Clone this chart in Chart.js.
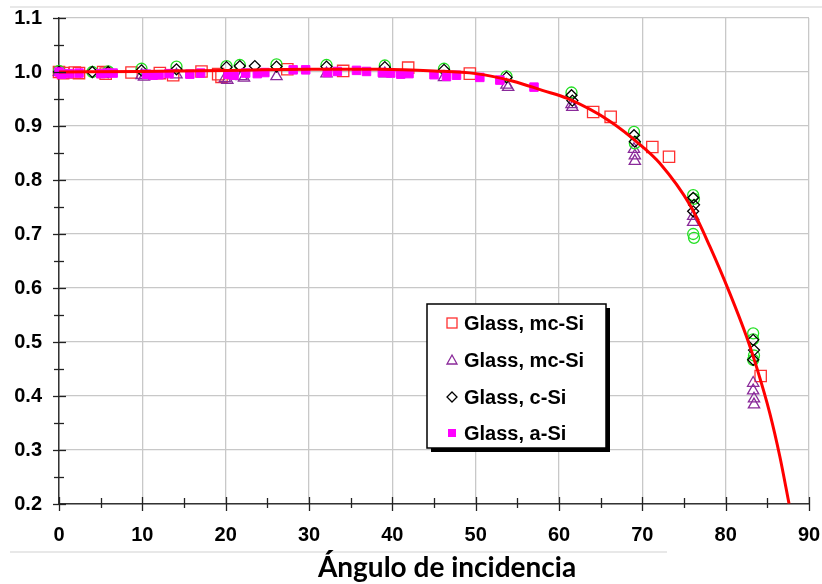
<!DOCTYPE html>
<html>
<head>
<meta charset="utf-8">
<script src="https://cdn.jsdelivr.net/npm/chart.js@4.4.0/dist/chart.umd.min.js"></script>
<style>
  html, body { margin: 0; padding: 0; background: #fff; }
  #wrap { width: 822px; height: 584px; }
</style>
</head>
<body>
<div id="wrap"><canvas id="grafica" width="822" height="584"></canvas></div>
<script>
// curva de ajuste
const ajusteX = [0, 10, 20, 30, 38.5, 45, 50, 54.5, 58, 61, 66.1, 70, 72.1, 75.7, 78.1, 80.5, 82.5, 83.7, 85.3, 86.5, 87.6];
const ajusteY = [1.000, 1.001, 1.003, 1.005, 1.005, 1.002, 0.997, 0.983, 0.966, 0.951, 0.909, 0.862, 0.831, 0.754, 0.677, 0.590, 0.510, 0.454, 0.368, 0.288, 0.201];

// Glass, mc-Si (cuadrados rojos)
const mcSiCuadros = [
    [0, 1.000], [0.5, 0.998], [1.9, 0.999], [2.4, 0.998], [5.3, 1.000], [5.6, 0.997],
    [8.7, 0.999], [12.1, 0.998], [13.7, 0.994], [17.1, 1.001], [19.1, 0.996], [19.5, 0.991],
    [27.4, 1.005], [34.1, 1.002], [41.9, 1.008], [49.3, 0.997], [64.1, 0.926], [66.2, 0.917],
    [71.2, 0.861], [73.2, 0.843], [84.2, 0.437]
];
// Glass, mc-Si (triangulos morados)
const mcSiTriangulos = [
    [0, 1.000], [9.9, 0.994], [10.2, 0.991], [14.1, 0.995], [19.9, 0.988], [20.2, 0.985],
    [21.9, 0.992], [22.2, 0.989], [26.1, 0.992], [32.1, 0.997], [39.1, 0.997], [46.2, 0.990],
    [53.7, 0.976], [53.9, 0.972], [61.5, 0.940], [61.6, 0.935], [69.0, 0.857], [69.1, 0.845],
    [69.1, 0.835], [76.1, 0.733], [76.1, 0.722], [83.3, 0.424], [83.3, 0.410], [83.4, 0.395], [83.4, 0.384]
];
// Glass, c-Si (rombos negros)
const cSiRombos = [
    [0, 1.000], [4.0, 1.000], [5.9, 1.000], [9.9, 1.003], [14.1, 1.005], [20.1, 1.009],
    [21.7, 1.011], [23.5, 1.011], [26.1, 1.010], [32.1, 1.010], [39.1, 1.009], [46.2, 1.004],
    [53.7, 0.990], [61.5, 0.957], [61.6, 0.947], [69.0, 0.883], [69.1, 0.871], [76.1, 0.767],
    [76.2, 0.754], [76.1, 0.742], [83.3, 0.504], [83.4, 0.485], [83.3, 0.467]
];
// serie verde sin leyenda (circulos)
const circulosVerdes = [
    [0, 1.002], [4.0, 1.000], [5.9, 1.001], [9.9, 1.006], [14.1, 1.010], [20.1, 1.011],
    [21.7, 1.013], [26.1, 1.014], [32.1, 1.013], [39.1, 1.012], [46.2, 1.006], [53.7, 0.992],
    [61.5, 0.962], [69.0, 0.889], [69.1, 0.868], [76.1, 0.772], [76.2, 0.765], [76.1, 0.700],
    [76.2, 0.693], [83.3, 0.516], [83.3, 0.505], [83.4, 0.475], [83.3, 0.467]
];
// Glass, a-Si (cuadrados magenta)
const aSiCuadros = [
    [0, 1.000], [0.3, 0.996], [1.2, 0.997], [2.4, 0.998], [5.0, 0.997], [5.8, 0.998], [6.5, 0.998],
    [10.5, 0.996], [11.3, 0.994], [12.0, 0.995], [13.2, 0.997], [15.7, 0.996], [17.0, 0.998],
    [20.3, 0.996], [21.0, 0.994], [22.4, 0.998], [23.8, 0.997], [24.7, 0.999], [28.1, 1.004],
    [29.6, 1.004], [32.2, 0.999], [33.4, 1.001], [35.7, 1.003], [36.9, 1.001], [38.8, 0.999],
    [39.8, 0.998], [41.0, 0.996], [42.0, 0.997], [45.0, 0.995], [46.5, 0.992], [47.7, 0.994],
    [50.5, 0.990], [52.9, 0.985], [57.0, 0.972]
];

const etiquetas = ["Glass, mc-Si", "Glass, mc-Si", "Glass, c-Si", "Glass, a-Si"];
const tituloX = "Ángulo de incidencia";

const aPuntos = (lista) => lista.map((p) => ({ x: p[0], y: p[1] }));

const marcas = {
    id: "marcas",
    beforeDraw(chart) {
        const ctx = chart.ctx;
        ctx.save();
        ctx.fillStyle = "#e8e8e8";
        ctx.fillRect(10, 6, 812, 2);
        ctx.fillRect(10, 551, 657, 2);
        ctx.restore();
    },
    afterDatasetsDraw(chart) {
        const { ctx, chartArea: a, scales: { x, y } } = chart;
        ctx.save();
        ctx.strokeStyle = "#222";
        ctx.lineWidth = 1.3;
        for (let i = 0; i <= 18; i++) {
            const px = Math.round(x.getPixelForValue(i * 5)) + 0.5;
            const mayor = i % 2 === 0;
            ctx.beginPath();
            ctx.moveTo(px, a.bottom - (mayor ? 7 : 6));
            ctx.lineTo(px, a.bottom + (mayor ? 7 : 4));
            ctx.stroke();
        }
        for (let i = 4; i <= 22; i++) {
            const py = Math.round(y.getPixelForValue(i * 0.05)) + 0.5;
            const mayor = i % 2 === 0;
            ctx.beginPath();
            ctx.moveTo(a.left - (mayor ? 6 : 5), py);
            ctx.lineTo(a.left + (mayor ? 7 : 5), py);
            ctx.stroke();
        }
        ctx.restore();
    },
    afterDraw(chart) {
        const ctx = chart.ctx;
        ctx.save();
        // titulo del eje x
        ctx.fillStyle = "#000";
        ctx.font = "bold 28px Lato, 'Open Sans', sans-serif";
        ctx.textAlign = "center";
        ctx.textBaseline = "middle";
        ctx.fillText(tituloX, 447, 568);

        const caja = { x: 427, y: 304, w: 179, h: 144 };
        ctx.fillStyle = "#000";
        ctx.fillRect(caja.x + 4, caja.y + 4, caja.w, caja.h);
        ctx.fillStyle = "#fff";
        ctx.fillRect(caja.x, caja.y, caja.w, caja.h);
        ctx.strokeStyle = "#000";
        ctx.lineWidth = 1.5;
        ctx.strokeRect(caja.x, caja.y, caja.w, caja.h);

        const filas = [323, 360, 397, 433];
        const mx = 452;
        ctx.lineWidth = 1.3;
        // cuadrado rojo
        ctx.strokeStyle = "#ff3030";
        ctx.strokeRect(mx - 5, filas[0] - 5, 10, 10);
        // triangulo morado
        ctx.strokeStyle = "#8a2a9a";
        ctx.beginPath();
        ctx.moveTo(mx, filas[1] - 5);
        ctx.lineTo(mx + 5, filas[1] + 4);
        ctx.lineTo(mx - 5, filas[1] + 4);
        ctx.closePath();
        ctx.stroke();
        // rombo negro
        ctx.strokeStyle = "#000";
        ctx.beginPath();
        ctx.moveTo(mx, filas[2] - 5);
        ctx.lineTo(mx + 5, filas[2]);
        ctx.lineTo(mx, filas[2] + 5);
        ctx.lineTo(mx - 5, filas[2]);
        ctx.closePath();
        ctx.stroke();
        // cuadrado magenta
        ctx.fillStyle = "#ff00ff";
        ctx.fillRect(mx - 4, filas[3] - 4, 8, 8);

        ctx.fillStyle = "#000";
        ctx.font = "bold 20px 'Liberation Sans', Arial, sans-serif";
        ctx.textAlign = "left";
        ctx.textBaseline = "middle";
        etiquetas.forEach((t, i) => ctx.fillText(t, 464, filas[i] + 1));
        ctx.restore();
    }
};

const fuenteTicks = { family: "'Liberation Sans', Arial, sans-serif", size: 20, weight: "bold" };

const ctx = document.getElementById("grafica").getContext("2d");
const grafica = new Chart(ctx, {
    type: "scatter",
    data: {
        datasets: [
            {
                label: "ajuste",
                data: ajusteX.map((x, i) => ({ x: x, y: ajusteY[i] })),
                showLine: true,
                borderColor: "#ff0000",
                borderWidth: 3,
                pointRadius: 0,
                cubicInterpolationMode: "monotone",
                order: 0
            },
            {
                label: etiquetas[3],
                data: aPuntos(aSiCuadros),
                pointStyle: "rect",
                pointRadius: 6,
                backgroundColor: "#ff00ff",
                borderColor: "#ff00ff",
                borderWidth: 1,
                clip: false,
                order: 1
            },
            {
                label: etiquetas[2],
                data: aPuntos(cSiRombos),
                pointStyle: "rectRot",
                pointRadius: 5.5,
                backgroundColor: "rgba(0,0,0,0)",
                borderColor: "#000",
                borderWidth: 1.3,
                clip: false,
                order: 2
            },
            {
                label: "verde",
                data: aPuntos(circulosVerdes),
                pointStyle: "circle",
                pointRadius: 5.5,
                backgroundColor: "rgba(0,0,0,0)",
                borderColor: "#22e022",
                borderWidth: 1.3,
                clip: false,
                order: 3
            },
            {
                label: etiquetas[1],
                data: aPuntos(mcSiTriangulos),
                pointStyle: "triangle",
                pointRadius: 6.5,
                backgroundColor: "rgba(0,0,0,0)",
                borderColor: "#8a2a9a",
                borderWidth: 1.3,
                clip: false,
                order: 4
            },
            {
                label: etiquetas[0],
                data: aPuntos(mcSiCuadros),
                pointStyle: "rect",
                pointRadius: 8,
                backgroundColor: "rgba(0,0,0,0)",
                borderColor: "#ff3030",
                borderWidth: 1.3,
                clip: false,
                order: 5
            }
        ]
    },
    options: {
        responsive: false,
        animation: false,
        layout: { padding: { top: 18, right: 13, left: 0, bottom: 0 } },
        plugins: { legend: { display: false }, tooltip: { enabled: false } },
        scales: {
            x: {
                type: "linear",
                min: 0,
                max: 90,
                afterFit: (s) => {
                    s.height = 80;
                    s.paddingLeft = 0;
                    s.paddingRight = 0;
                },
                ticks: { stepSize: 10, font: fuenteTicks, color: "#000", padding: 19, maxRotation: 0 },
                grid: { color: "#c8c8c8", lineWidth: 1.3, drawTicks: false },
                border: { color: "#333", width: 1.5 }
            },
            y: {
                type: "linear",
                min: 0.2,
                max: 1.1,
                afterFit: (s) => {
                    s.width = 59;
                    s.paddingTop = 0;
                    s.paddingBottom = 0;
                },
                ticks: {
                    stepSize: 0.1,
                    font: fuenteTicks,
                    color: "#000",
                    padding: 17,
                    callback: (v) => v.toFixed(1)
                },
                grid: { color: "#c8c8c8", lineWidth: 1.3, drawTicks: false },
                border: { color: "#333", width: 1.5 }
            }
        }
    },
    plugins: [marcas]
});
</script>
</body>
</html>
